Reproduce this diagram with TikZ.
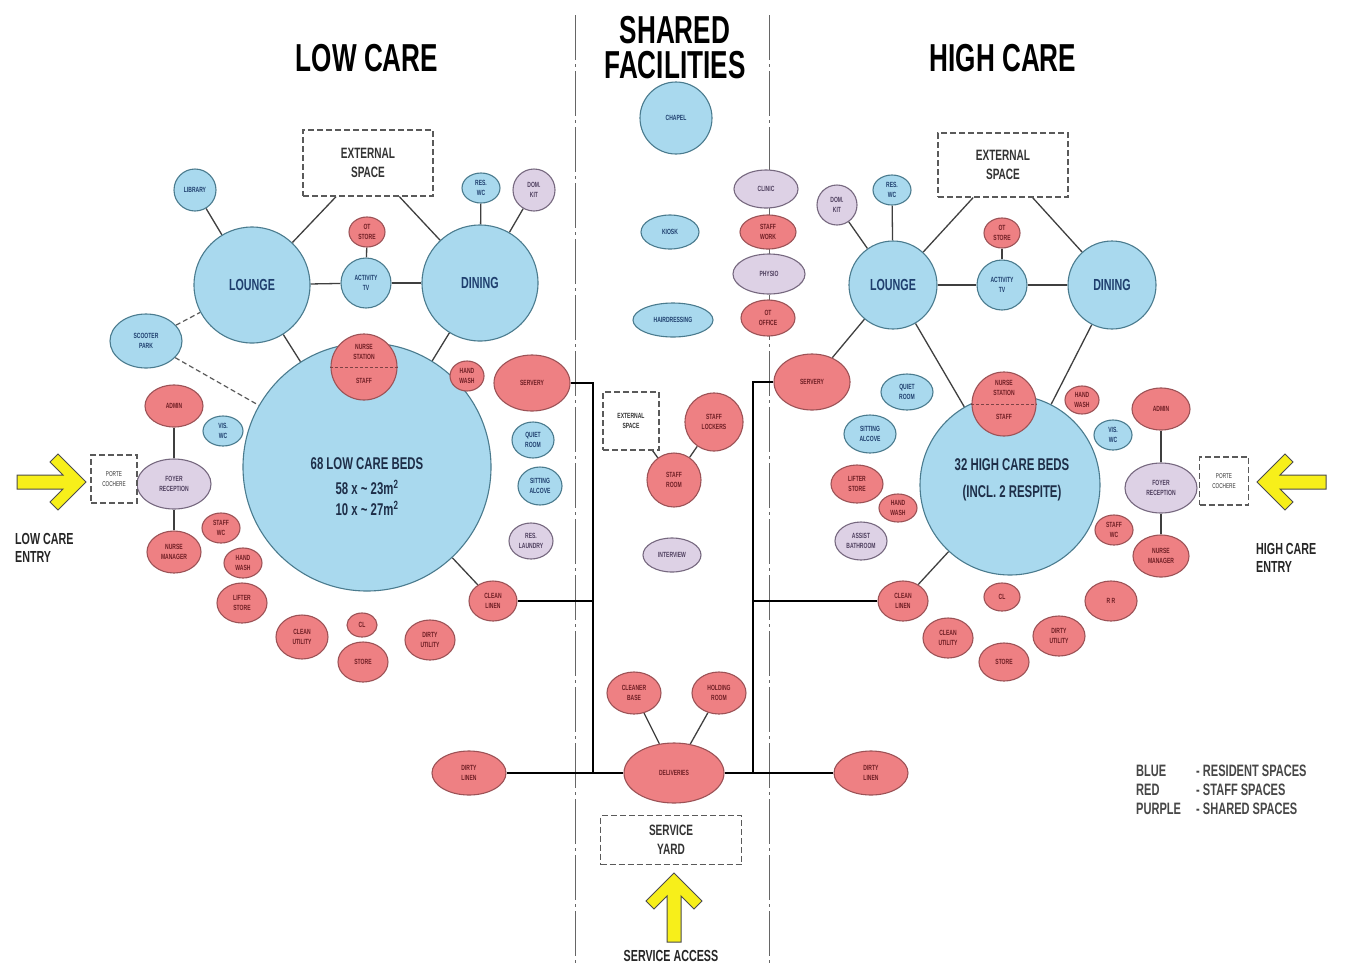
\documentclass[tikz,border=0pt]{standalone}
\usepackage{fontspec}
\setmainfont{Liberation Sans}[FakeStretch=0.67]
\usetikzlibrary{shapes.geometric}
\pgfdeclarelayer{bg}
\pgfsetlayers{bg,main}
\definecolor{bfill}{HTML}{A9D9EE}
\definecolor{bdraw}{HTML}{4A7B8E}
\definecolor{btext}{HTML}{1F3F6E}
\definecolor{rfill}{HTML}{EE8083}
\definecolor{rdraw}{HTML}{9C5256}
\definecolor{rtext}{HTML}{6E1E24}
\definecolor{pfill}{HTML}{DDD1E5}
\definecolor{pdraw}{HTML}{76687F}
\definecolor{ptext}{HTML}{4E3F5E}
\definecolor{conncol}{HTML}{3F3F3F}
\definecolor{boxcol}{HTML}{5A5A5A}
\definecolor{boxtext}{HTML}{333333}
\definecolor{yel}{HTML}{F7EF1A}
\definecolor{bigtext}{HTML}{1E2E48}
\newcommand\lblf{\bfseries\fontsize{7.5}{9.5}\selectfont}
\newcommand\midf{\bfseries\fontsize{16}{18}\selectfont}
\newcommand\boxf{\bfseries\fontsize{15}{19}\selectfont}
\newcommand\bigf{\bfseries\fontsize{17}{21}\selectfont}
\newcommand\titlef{\bfseries\fontsize{39}{35}\selectfont}
\newcommand\entf{\bfseries\fontsize{16}{18.5}\selectfont}
\newcommand\legf{\bfseries\fontsize{16.5}{19}\selectfont}
\tikzset{
  nodebase/.style={line width=1.1pt, inner sep=0pt, align=center, font=\lblf},
  bl/.style={nodebase, draw=bdraw, fill=bfill, text=btext},
  rd/.style={nodebase, draw=rdraw, fill=rfill, text=rtext},
  pu/.style={nodebase, draw=pdraw, fill=pfill, text=ptext},
  el/.style 2 args={ellipse, minimum width=#1, minimum height=#2},
  ci/.style={circle, minimum size=#1},
  conn/.style={draw=conncol, line width=1.3pt},
  dconn/.style={draw=boxcol, line width=1.2pt, dash pattern=on 5pt off 3pt},
  bus/.style={draw=black, line width=2.2pt},
  dbox/.style={draw=boxcol, line width=1.2pt, dash pattern=on 6pt off 3pt, align=center, inner sep=0pt, text=boxtext, font=\lblf, fill=white},
  divider/.style={draw=gray!80!black, line width=0.9pt, dash pattern=on 45pt off 4pt on 3pt off 4pt},
  ttl/.style={align=center, font=\titlef, text=black, inner sep=0pt, text height=28pt, text depth=0pt},
  txtonly/.style={align=center, inner sep=0pt},
  yarrow/.style={fill=yel, draw=black!70, line width=1pt, line join=miter},
}
\begin{document}
\begin{tikzpicture}[x=1pt,y=-1pt]
\useasboundingbox (0,0) rectangle (1347,970);

% titles
\node[ttl] (tlow) at (367,57) {LOW CARE};
\node[ttl] (tshared) at (675,29) {SHARED};
\node[ttl] (tfacil) at (675,64) {FACILITIES};
\node[ttl] (thigh) at (1003,57) {HIGH CARE};

% ================= LOW CARE =================
\node[dbox, minimum width=130pt, minimum height=66pt, font=\boxf] (extL) at (368,163) {EXTERNAL\\SPACE};
\node[bl, ci=42pt] (libL) at (195,190) {LIBRARY};
\node[bl, ci=116pt, font=\midf] (lngL) at (252,285) {LOUNGE};
\node[bl, ci=116pt, font=\midf] (dinL) at (480,283) {DINING};
\node[bl, ci=50pt] (actL) at (366,283) {ACTIVITY\\TV};
\node[rd, el={36pt}{30pt}] (otsL) at (367,232) {OT\\STORE};
\node[bl, el={38pt}{30pt}] (rwcL) at (481,188) {RES.\\WC};
\node[pu, ci=42pt] (dkL) at (534,190) {DOM.\\KIT};
\node[bl, el={72pt}{54pt}] (scoot) at (146,341) {SCOOTER\\PARK};
\node[bl, ci=248pt] (bedsL) at (367,467) {};
\node[txtonly, font=\bigf, text=bigtext] (bedsLt) at (367,487) {68 LOW CARE BEDS\\[4pt]58 x \textasciitilde{} 23m\textsuperscript{2}\\10 x \textasciitilde{} 27m\textsuperscript{2}};
\node[rd, ci=66pt] (nsL) at (364,367) {};
\draw[rdraw!80!black, line width=0.8pt, dash pattern=on 3pt off 2pt] (nsL.west) -- (nsL.east);
\node[txtonly, font=\lblf, text=rtext] (nsLt) at (364,352) {NURSE\\STATION};
\node[txtonly, font=\lblf, text=rtext] (nsLs) at (364,381) {STAFF};
\node[rd, el={34pt}{30pt}] (hwL1) at (467,376) {HAND\\WASH};
\node[rd, el={76pt}{56pt}] (servL) at (532,383) {SERVERY};
\node[bl, el={42pt}{36pt}] (qrL) at (533,440) {QUIET\\ROOM};
\node[bl, el={44pt}{38pt}] (saL) at (540,486) {SITTING\\ALCOVE};
\node[pu, el={44pt}{36pt}] (rlL) at (531,541) {RES.\\LAUNDRY};
\node[rd, el={48pt}{40pt}] (clnL) at (493,601) {CLEAN\\LINEN};
\node[rd, el={50pt}{40pt}] (duL) at (430,640) {DIRTY\\UTILITY};
\node[rd, el={30pt}{24pt}] (clL) at (362,625) {CL};
\node[rd, el={50pt}{40pt}] (stL) at (363,662) {STORE};
\node[rd, el={52pt}{44pt}] (cuL) at (302,637) {CLEAN\\UTILITY};
\node[rd, el={50pt}{40pt}] (lsL) at (242,603) {LIFTER\\STORE};
\node[rd, el={38pt}{30pt}] (hwL2) at (243,563) {HAND\\WASH};
\node[rd, el={38pt}{30pt}] (swL) at (221,528) {STAFF\\WC};
\node[rd, el={54pt}{42pt}] (nmL) at (174,552) {NURSE\\MANAGER};
\node[pu, el={74pt}{50pt}] (frL) at (174,484) {FOYER\\RECEPTION};
\node[rd, el={58pt}{42pt}] (admL) at (174,406) {ADMIN};
\node[bl, el={40pt}{30pt}] (vwL) at (223,431) {VIS.\\WC};
\node[dbox, minimum width=46pt, minimum height=48pt, font=\fontsize{7}{9.5}\selectfont] (pcL) at (114,479) {PORTE\\COCHERE};
\node[txtonly, font=\entf, align=left, anchor=west, text=black!85] (entL) at (15,548) {LOW CARE\\ENTRY};

% ================= SHARED =================
\node[bl, ci=72pt] (chap) at (676,118) {CHAPEL};
\node[bl, el={58pt}{34pt}] (kiosk) at (670,232) {KIOSK};
\node[bl, el={80pt}{34pt}] (hair) at (673,320) {HAIRDRESSING};
\node[pu, el={64pt}{38pt}] (clinic) at (766,189) {CLINIC};
\node[rd, el={56pt}{34pt}] (swork) at (768,232) {STAFF\\WORK};
\node[pu, el={72pt}{40pt}] (physio) at (769,274) {PHYSIO};
\node[rd, el={54pt}{36pt}] (otoff) at (768,318) {OT\\OFFICE};
\node[dbox, minimum width=56pt, minimum height=58pt] (extC) at (631,421) {EXTERNAL\\SPACE};
\node[rd, ci=58pt] (lock) at (714,422) {STAFF\\LOCKERS};
\node[rd, ci=54pt] (sroom) at (674,480) {STAFF\\ROOM};
\node[pu, el={58pt}{34pt}] (intv) at (672,555) {INTERVIEW};
\node[rd, el={54pt}{42pt}] (clb) at (634,693) {CLEANER\\BASE};
\node[rd, el={54pt}{42pt}] (hold) at (719,693) {HOLDING\\ROOM};
\node[rd, el={100pt}{60pt}] (deliv) at (674,773) {DELIVERIES};
\node[rd, el={74pt}{44pt}] (dlL) at (469,773) {DIRTY\\LINEN};
\node[rd, el={74pt}{44pt}] (dlR) at (871,773) {DIRTY\\LINEN};
\node[dbox, minimum width=141pt, minimum height=49pt, font=\boxf] (syard) at (671,840) {SERVICE\\YARD};
\node[txtonly, font=\entf, text=black!85] (sacc) at (671,956) {SERVICE ACCESS};

% ================= HIGH CARE =================
\node[dbox, minimum width=130pt, minimum height=64pt, font=\boxf] (extR) at (1003,165) {EXTERNAL\\SPACE};
\node[rd, el={76pt}{56pt}] (servR) at (812,382) {SERVERY};
\node[bl, ci=88pt, font=\midf] (lngR) at (893,285) {LOUNGE};
\node[bl, ci=88pt, font=\midf] (dinR) at (1112,285) {DINING};
\node[bl, ci=50pt] (actR) at (1002,285) {ACTIVITY\\TV};
\node[rd, el={36pt}{30pt}] (otsR) at (1002,233) {OT\\STORE};
\node[pu, ci=40pt] (dkR) at (837,205) {DOM.\\KIT};
\node[bl, el={38pt}{30pt}] (rwcR) at (892,190) {RES.\\WC};
\node[bl, ci=180pt] (bedsR) at (1010,485) {};
\node[txtonly, font=\bigf, text=bigtext] (bedsRt) at (1012,480) {32 HIGH CARE BEDS\\[6pt](INCL. 2 RESPITE)};
\node[rd, ci=64pt] (nsR) at (1004,404) {};
\draw[rdraw!80!black, line width=0.8pt, dash pattern=on 3pt off 2pt] (nsR.west) -- (nsR.east);
\node[txtonly, font=\lblf, text=rtext] (nsRt) at (1004,388) {NURSE\\STATION};
\node[txtonly, font=\lblf, text=rtext] (nsRs) at (1004,417) {STAFF};
\node[rd, el={34pt}{28pt}] (hwR1) at (1082,400) {HAND\\WASH};
\node[bl, el={38pt}{30pt}] (vwR) at (1113,435) {VIS.\\WC};
\node[rd, el={58pt}{42pt}] (admR) at (1161,409) {ADMIN};
\node[pu, el={72pt}{50pt}] (frR) at (1161,488) {FOYER\\RECEPTION};
\node[rd, el={56pt}{42pt}] (nmR) at (1161,556) {NURSE\\MANAGER};
\node[rd, el={38pt}{30pt}] (swR) at (1114,530) {STAFF\\WC};
\node[dbox, minimum width=49pt, minimum height=48pt, font=\fontsize{7}{9.5}\selectfont] (pcR) at (1224,481) {PORTE\\COCHERE};
\node[bl, el={52pt}{36pt}] (qrR) at (907,392) {QUIET\\ROOM};
\node[bl, el={52pt}{38pt}] (saR) at (870,434) {SITTING\\ALCOVE};
\node[rd, el={52pt}{38pt}] (lsR) at (857,484) {LIFTER\\STORE};
\node[rd, el={38pt}{28pt}] (hwR2) at (898,508) {HAND\\WASH};
\node[pu, el={52pt}{38pt}] (abR) at (861,541) {ASSIST\\BATHROOM};
\node[rd, el={50pt}{40pt}] (clnR) at (903,601) {CLEAN\\LINEN};
\node[rd, el={36pt}{28pt}] (clR) at (1002,597) {CL};
\node[rd, el={50pt}{40pt}] (cuR) at (948,638) {CLEAN\\UTILITY};
\node[rd, el={50pt}{38pt}] (stR) at (1004,662) {STORE};
\node[rd, el={52pt}{40pt}] (duR) at (1059,636) {DIRTY\\UTILITY};
\node[rd, el={52pt}{40pt}] (rrR) at (1111,601) {R R};
\node[txtonly, font=\entf, align=left, anchor=west, text=black!85] (entR) at (1256,558) {HIGH CARE\\ENTRY};

% legend
\node[txtonly, font=\legf, anchor=west, text=black!72] (lg1) at (1136,771) {BLUE};
\node[txtonly, font=\legf, anchor=west, text=black!72] (lg2) at (1136,790) {RED};
\node[txtonly, font=\legf, anchor=west, text=black!72] (lg3) at (1136,809) {PURPLE};
\node[txtonly, font=\legf, anchor=west, text=black!72] (lg1b) at (1196,771) {- RESIDENT SPACES};
\node[txtonly, font=\legf, anchor=west, text=black!72] (lg2b) at (1196,790) {- STAFF SPACES};
\node[txtonly, font=\legf, anchor=west, text=black!72] (lg3b) at (1196,809) {- SHARED SPACES};

% yellow arrows
\draw[yarrow] (86,482) -- (58,510) -- (50,502) -- (63,489) -- (17,489) -- (17,475) -- (63,475) -- (50,462) -- (58,454) -- cycle;
\draw[yarrow] (1257,482) -- (1285,510) -- (1293,502) -- (1280,489) -- (1326,489) -- (1326,475) -- (1280,475) -- (1293,462) -- (1285,454) -- cycle;
\draw[yarrow] (674,873) -- (646,901) -- (654,909) -- (667,896) -- (667,942) -- (681,942) -- (681,896) -- (694,909) -- (702,901) -- cycle;

% connectors
\coordinate (busL) at (593,773);
\coordinate (busR) at (753,773);
\begin{pgfonlayer}{bg}
\fill[white] (0,0) rectangle (1347,970);
\draw[divider] (575,15) -- (575,965);
\draw[divider] (769,15) -- (769,965);
\draw[conn] (libL) -- (lngL);
\draw[conn] (extL) -- (lngL);
\draw[conn] (extL) -- (dinL);
\draw[conn] (lngL) -- (actL);
\draw[conn] (actL) -- (dinL);
\draw[conn] (otsL) -- (actL);
\draw[conn] (rwcL) -- (dinL);
\draw[conn] (dkL) -- (dinL);
\draw[dconn] (scoot) -- (lngL);
\draw[dconn] (scoot) -- (bedsL);
\draw[conn] (lngL) -- (bedsL);
\draw[conn] (dinL) -- (bedsL);
\draw[conn] (admL) -- (frL);
\draw[conn] (frL) -- (nmL);
\draw[conn] (bedsL) -- (clnL);
\draw[bus] (servL.east) -| (busL);
\draw[bus] (clnL.east) -- (clnL.east -| busL);
\draw[bus] (dlL) -- (deliv);
\draw[conn] (extC) -- (sroom);
\draw[conn] (lock) -- (sroom);
\draw[conn] (clb) -- (deliv);
\draw[conn] (hold) -- (deliv);
\draw[bus] (servR.west) -| (busR);
\draw[bus] (clnR.west) -- (clnR.west -| busR);
\draw[bus] (deliv) -- (dlR);
\draw[conn] (dkR) -- (lngR);
\draw[conn] (rwcR) -- (lngR);
\draw[conn] (extR) -- (lngR);
\draw[conn] (extR) -- (dinR);
\draw[conn] (lngR) -- (actR);
\draw[conn] (actR) -- (dinR);
\draw[conn] (otsR) -- (actR);
\draw[conn] (servR) -- (lngR);
\draw[conn] (lngR) -- (bedsR);
\draw[conn] (dinR) -- (bedsR);
\draw[conn] (clnR) -- (bedsR);
\draw[conn] (admR) -- (frR);
\draw[conn] (frR) -- (nmR);
\end{pgfonlayer}
\end{tikzpicture}
\end{document}
